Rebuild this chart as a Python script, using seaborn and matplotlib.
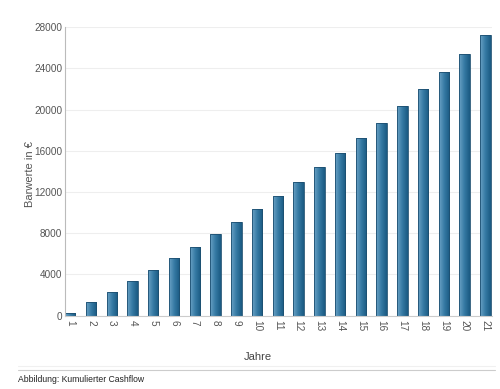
import matplotlib
matplotlib.use("Agg")
import matplotlib.pyplot as plt
import matplotlib.colors as mcolors
import numpy as np
import pandas as pd
import seaborn as sns

years = [str(i) for i in range(1, 22)]
values = [230, 1300, 2270, 3330, 4450, 5560, 6650, 7880, 9080, 10340,
          11650, 13010, 14400, 15820, 17240, 18730, 20340, 21990, 23670, 25410, 27200]
yticks = [0, 4000, 8000, 12000, 16000, 20000, 24000, 28000]

sns.set_theme(style="white")
plt.rcParams['font.family'] = ['Liberation Sans', 'DejaVu Sans']

df = pd.DataFrame({"Jahr": years, "Wert": values})

fig = plt.figure(figsize=(5.0, 3.89), dpi=100)
ax = fig.add_axes([0.13, 0.1884, 0.854, 0.742])
sns.barplot(data=df, x="Jahr", y="Wert", ax=ax, width=0.5, color="#2f6f95",
            edgecolor="#1d4f70", linewidth=0.6)

ax.set_ylim(0, 28000)
ax.set_xlim(-0.255, 20.32)
ax.set_yticks(yticks)
ax.set_yticklabels([str(t) for t in yticks], fontsize=7.2, color="#555555")
ax.tick_params(axis="x", labelrotation=-90, labelsize=7.2, labelcolor="#555555", length=0, pad=3)
ax.tick_params(axis="y", length=0, pad=2)
ax.yaxis.grid(True, color="#eeeeee", linewidth=0.8)
ax.set_axisbelow(True)
for s in ["top", "right"]:
    ax.spines[s].set_visible(False)
ax.spines["left"].set_color("#bbbbbb")
ax.spines["left"].set_linewidth(0.8)
ax.spines["bottom"].set_color("#cccccc")
ax.spines["bottom"].set_linewidth(0.8)

ax.set_xlabel("")
ax.set_ylabel("")
fig.text(30/500, 1 - 174/389, "Barwerte in €", rotation=90, ha="center", va="center",
         fontsize=8, color="#555555")
fig.text(258/500, 1 - 357/389, "Jahre", ha="center", va="center", fontsize=8, color="#444444")

# gradient fill for bars
cmap = mcolors.LinearSegmentedColormap.from_list("g", ["#6aa2c5", "#3579a3", "#1a5a82"])
grad = np.linspace(0, 1, 64).reshape(1, -1)
for p in ax.patches:
    x0, y0 = p.get_x(), p.get_y()
    w, h = p.get_width(), p.get_height()
    im = ax.imshow(grad, cmap=cmap, aspect="auto", extent=[x0, x0 + w, y0, y0 + h],
                   zorder=p.get_zorder() + 0.1, interpolation="bilinear")
    im.set_clip_path(p)
    p.set_facecolor("none")
    p.set_zorder(p.get_zorder() + 0.2)
ax.set_xlim(-0.255, 20.32)
ax.set_ylim(0, 28000)

# bottom separator lines and caption
fig.add_artist(plt.Line2D([18/500, 495/500], [1 - 366/389, 1 - 366/389], color="#f0f0f0", linewidth=0.8))
fig.add_artist(plt.Line2D([18/500, 495/500], [1 - 370/389, 1 - 370/389], color="#cccccc", linewidth=0.8))
fig.text(18/500, 1 - 380/389, "Abbildung: Kumulierter Cashflow", ha="left", va="center",
         fontsize=6.2, color="#222222")

fig.savefig("out.png", dpi=100)
